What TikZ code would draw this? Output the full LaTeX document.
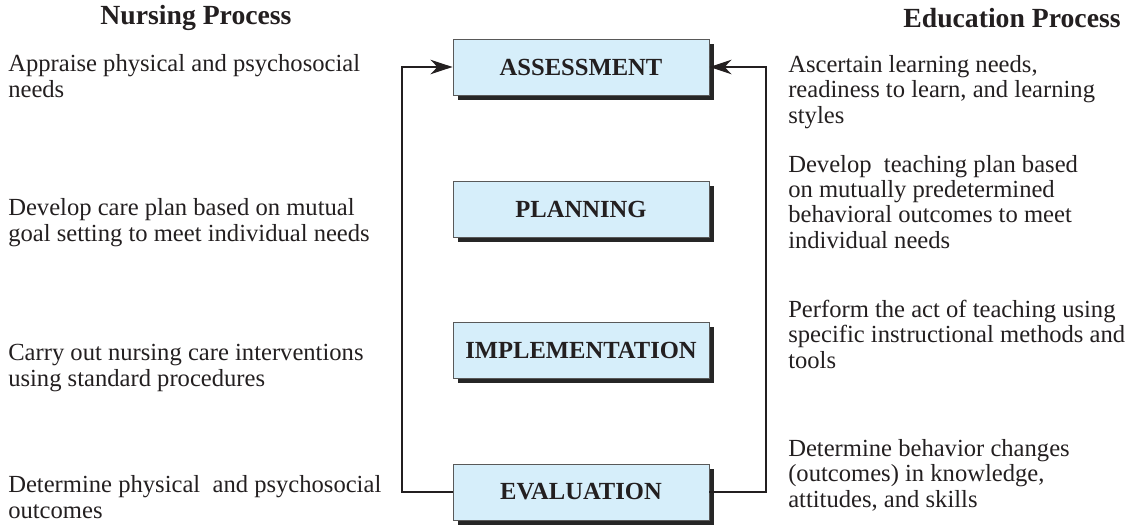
\documentclass[tikz,border=0pt]{standalone}
\usepackage{fontspec}
\setmainfont{Liberation Serif}
\usepackage{xcolor}
\usepackage{tikz}
\definecolor{phaseblue}{RGB}{214, 238, 250}
\definecolor{inkgray}{RGB}{35, 31, 32}
\usetikzlibrary{arrows.meta, shadows, positioning}

\begin{document}
\begin{tikzpicture}[
    phase/.style={rectangle, draw=black!65, line width=0.6pt, fill=phaseblue, minimum width=6.4cm, minimum height=1.4cm, text=inkgray, font=\fontsize{17.5}{19}\selectfont\bfseries, drop shadow={shadow xshift=0.12cm, shadow yshift=-0.12cm, fill=black!85, opacity=1}},
    note/.style={anchor=base west, align=left, inner sep=0pt, text=inkgray, font=\fontsize{17.5}{17.8}\selectfont},
    heading/.style={text=inkgray, font=\fontsize{19.7}{21}\selectfont\bfseries},
    cycle/.style={line width=1.4pt, draw=inkgray, -{Stealth[length=0.55cm, width=0.36cm, inset=0.17cm]}}
]
    \useasboundingbox (0,0) rectangle (28.5,13.15);

    \node[heading] (nursing) at (4.9, 12.7) {Nursing Process};
    \node[heading] (education) at (25.3, 12.7) {Education Process};

    % the four phases
    \node[phase] (assess) at (14.525, 11.475) {ASSESSMENT};
    \node[phase] (plan) at (14.525, 7.925) {PLANNING};
    \node[phase] (impl) at (14.525, 4.4) {IMPLEMENTATION};
    \node[phase] (eval) at (14.525, 0.85) {EVALUATION};

    \draw[cycle] (eval.west) -- ++(-1.275, 0) |- (assess.west);
    \draw[cycle] (eval.east) -- ++(1.425, 0) |- (assess.east);

    % nursing side (placed at the baseline of the last line)
    \node[note] (n1) at (0.2, 10.725) {Appraise physical and psychosocial\\needs};
    \node[note] (n2) at (0.2, 7.125) {Develop care plan based on mutual\\goal setting to meet individual needs};
    \node[note] (n3) at (0.2, 3.5) {Carry out nursing care interventions\\using standard procedures};
    \node[note] (n4) at (0.2, 0.2) {Determine physical~ and psychosocial\\outcomes};

    % education side
    \node[note] (e1) at (19.7, 10.075) {Ascertain learning needs,\\readiness to learn, and learning\\styles};
    \node[note] (e2) at (19.7, 6.95) {Develop~ teaching plan based\\on mutually predetermined\\behavioral outcomes to meet\\individual needs};
    \node[note] (e3) at (19.7, 3.95) {Perform the act of teaching using\\specific instructional methods and\\tools};
    \node[note] (e4) at (19.7, 0.475) {Determine behavior changes\\(outcomes) in knowledge,\\attitudes, and skills};

\end{tikzpicture}
\end{document}
